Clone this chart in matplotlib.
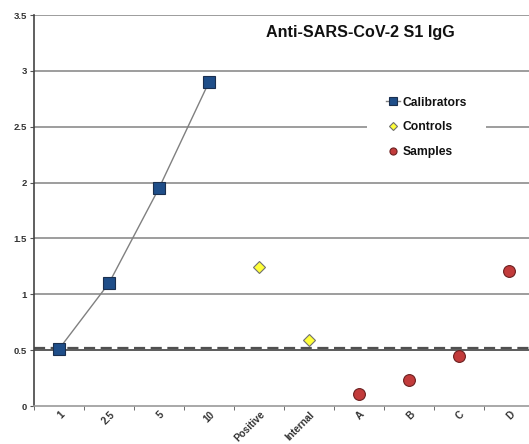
import matplotlib
matplotlib.use("Agg")
import matplotlib.pyplot as plt
import matplotlib.transforms as mtransforms
import numpy as np

plt.rcParams['font.family'] = ['Liberation Sans', 'DejaVu Sans']

categories = ["1", "2.5", "5", "10", "Positive", "Internal", "A", "B", "C", "D"]
calib_cats = ["1", "2.5", "5", "10"]
calib_vals = [0.51, 1.10, 1.95, 2.90]
control_cats = ["Positive", "Internal"]
control_vals = [1.24, 0.59]
sample_cats = ["A", "B", "C", "D"]
sample_vals = [0.11, 0.23, 0.45, 1.21]
cutoff = 0.52
yticks = [0, 0.5, 1, 1.5, 2, 2.5, 3, 3.5]
ytick_labels = ["0", "0.5", "1", "1.5", "2", "2.5", "3", "3.5"]
title = "Anti-SARS-CoV-2 S1 IgG"

pos = {c: i for i, c in enumerate(categories)}

fig = plt.figure(figsize=(5.29, 4.44), dpi=100)
ax = fig.add_axes([34/529, 1-406/444, 500/529, (406-15)/444])

ax.set_xlim(-0.5, len(categories) - 0.5)
ax.set_ylim(0, 3.5)

for y in yticks[1:]:
    col = '#404040' if y == 0.5 else '#8c8c8c'
    ax.axhline(y, color=col, lw=1.2, zorder=1)

ax.axhline(cutoff, color='#505050', lw=1.6, ls=(0, (5, 2.5)), zorder=2)

ax.plot([pos[c] for c in calib_cats], calib_vals, color='#808080', lw=1.0,
        marker='s', ms=8.5, mfc='#1F4E89', mec='#1a2f4f', mew=0.8,
        label='Calibrators', zorder=4)
ax.plot([pos[c] for c in control_cats], control_vals, ls='none',
        marker='D', ms=6.5, mfc='#FFFF3A', mec='#707070', mew=0.8,
        label='Controls', zorder=4)
ax.plot([pos[c] for c in sample_cats], sample_vals, ls='none',
        marker='o', ms=8.5, mfc='#C23B3B', mec='#6b2020', mew=0.8,
        label='Samples', zorder=4)

ax.set_yticks(yticks)
ax.set_yticklabels(ytick_labels)
ax.set_xticks(range(len(categories)))
ax.set_xticklabels(categories, rotation=45, ha='right', va='center',
                   rotation_mode='anchor')
ax.set_xticks(np.arange(-0.5, len(categories) + 0.5, 1), minor=True)
ax.tick_params(axis='x', which='major', length=0, pad=5, labelsize=7.2,
               labelcolor='#333333')
ax.tick_params(axis='x', which='minor', length=3, color='#555555')
ax.tick_params(axis='y', length=3, color='#555555', labelsize=6.8,
               labelcolor='#333333', pad=2)
offset = mtransforms.ScaledTranslation(4/100, 0, fig.dpi_scale_trans)
for lab in ax.get_xticklabels():
    lab.set_fontweight('bold')
    lab.set_transform(lab.get_transform() + offset)
for lab in ax.get_yticklabels():
    lab.set_fontweight('bold')

for s in ['top', 'right']:
    ax.spines[s].set_visible(False)
ax.spines['left'].set_color('#444444')
ax.spines['bottom'].set_color('#999999')
ax.spines['left'].set_linewidth(1.2)
ax.spines['bottom'].set_linewidth(1.2)

ax.text(0.652, 0.954, title, transform=ax.transAxes, ha='center', va='center',
        fontsize=11.6, fontweight='bold', color='#111111')

leg = ax.legend(loc='upper left', bbox_to_anchor=(0.666, 0.841),
                frameon=True, fancybox=False, edgecolor='none',
                facecolor='white', framealpha=1,
                prop={'weight': 'bold', 'size': 8.7},
                markerscale=0.6, handlelength=1.1, handletextpad=0.25,
                labelspacing=1.06, borderpad=1.6, borderaxespad=0)
leg.set_zorder(5)
for t in leg.get_texts():
    t.set_color('#111111')

fig.savefig('out.png', dpi=100)
